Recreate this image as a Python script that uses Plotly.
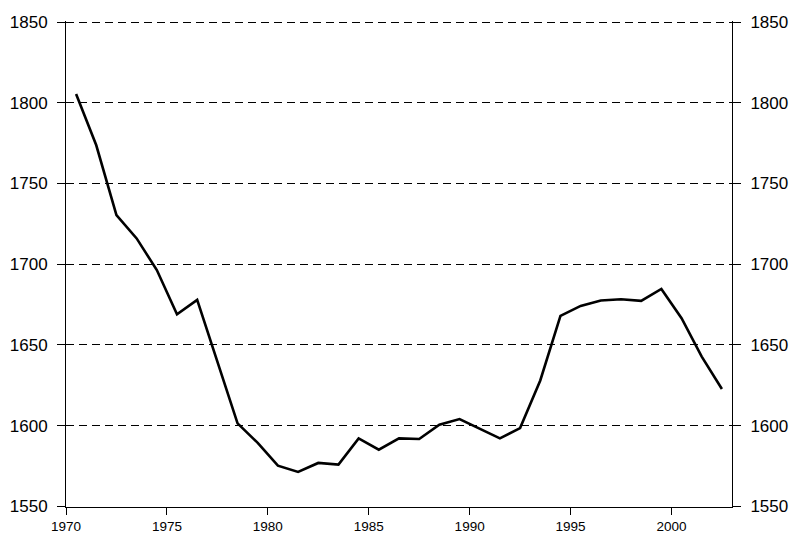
import plotly.graph_objects as go

years = list(range(1970, 2003))
values = [1805.5, 1773.7, 1730.5, 1716.0, 1696.4, 1669.0, 1677.9, 1640.0, 1601.4, 1589.3,
          1575.2, 1571.3, 1576.9, 1575.9, 1592.1, 1585.1, 1592.1, 1591.7, 1600.6, 1604.1,
          1598.0, 1592.1, 1598.5, 1628.0, 1668.0, 1674.2, 1677.5, 1678.3, 1677.3, 1684.7,
          1666.6, 1642.8, 1622.7]
x_ticks = [1970, 1975, 1980, 1985, 1990, 1995, 2000]
y_ticks = [1550, 1600, 1650, 1700, 1750, 1800, 1850]

# points sit in the middle of each year category
xpos = [y + 0.5 for y in years]

fig = go.Figure()
fig.add_trace(go.Scatter(x=xpos, y=values, mode="lines",
                         line=dict(color="black", width=2.6), showlegend=False,
                         hoverinfo="skip"))
fig.add_trace(go.Scatter(x=xpos, y=values, mode="lines", yaxis="y2",
                         line=dict(color="rgba(0,0,0,0)", width=0), showlegend=False,
                         hoverinfo="skip"))

font = dict(family="Liberation Sans, Arial, sans-serif", color="black")
yr = [1549.6, 1850.7]
fig.update_layout(
    width=790, height=534,
    margin=dict(l=66, r=58, t=21, b=27, pad=0),
    paper_bgcolor="white", plot_bgcolor="white",
    font=font,
    xaxis=dict(range=[1970, 2003], tickvals=x_ticks, ticktext=[str(v) for v in x_ticks],
               showgrid=False, zeroline=False, showline=True, linecolor="black", linewidth=1,
               ticks="outside", ticklen=7, tickcolor="black", tickwidth=1,
               tickfont=dict(size=13.5, **font), ticklabelstandoff=0, automargin=False),
    yaxis=dict(range=yr, tickvals=y_ticks, showgrid=True, gridcolor="black",
               gridwidth=1, griddash="8px,5px", zeroline=False, showline=True,
               linecolor="black", linewidth=1, ticks="outside", ticklen=8,
               tickcolor="black", tickwidth=1, tickfont=dict(size=17, **font),
               ticklabelstandoff=6, automargin=False),
    yaxis2=dict(range=yr, tickvals=y_ticks, overlaying="y", side="right",
                showgrid=False, zeroline=False, showline=True, linecolor="black",
                linewidth=1, ticks="outside", ticklen=8, tickcolor="black", tickwidth=1,
                tickfont=dict(size=17, **font), ticklabelstandoff=6, automargin=False),
)

fig.write_html("out.html", config={"displayModeBar": False},
               post_script="document.body.style.margin='0';")
